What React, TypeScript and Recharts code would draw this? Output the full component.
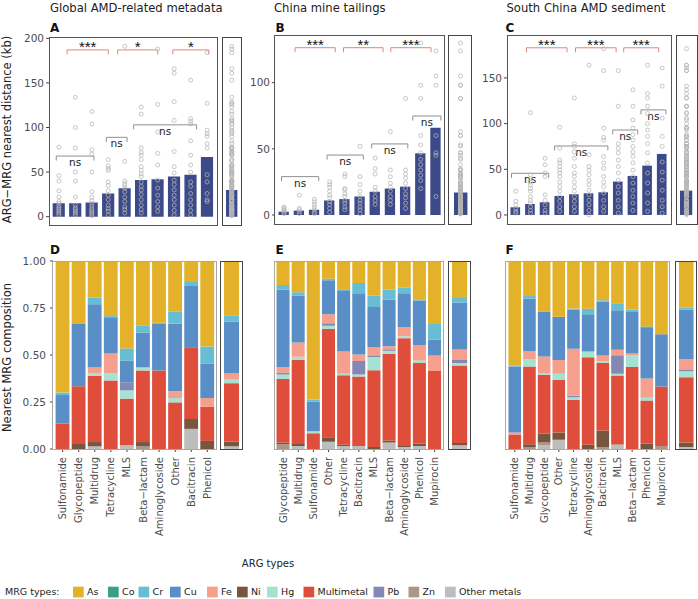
import React from "react";
import { ComposedChart, Bar, Scatter, XAxis, YAxis, ReferenceLine } from "recharts";

const FONT = "'DejaVu Sans', 'Liberation Sans', Arial, sans-serif";
const NAVY = "#3d4a8a";
const DOT = "#b4b4b4";
const SIG_RED = "#e0857b";
const SIG_GREY = "#8f8f8f";
const TICK = "#444";
const LABEL = "#4d4d4d";

// ---- top row: ARG–MRG nearest distance (kb) --------------------------------

const A_CATS = ["Sulfonamide", "Glycopeptide", "Multidrug", "Tetracycline", "MLS", "Beta\u2212lactam", "Aminoglycoside", "Other", "Bacitracin", "Phenicol"];
const A_MEAN = [15, 15, 16, 26, 32, 41, 42, 45, 47, 67];
const A_OVERALL = 30;
const A_DOTS = [
  [78, 46, 40, 29, 22, 17, 15, 12, 10, 8, 6, 4, 2],
  [134, 100, 77, 50, 40, 22, 13, 10, 8, 6, 4, 2],
  [118, 104, 75, 70, 50, 28, 22, 18, 15, 12, 9, 7, 5, 3, 1],
  [64, 57, 54, 52, 39, 35, 29, 24, 19, 13, 9, 6, 2],
  [191, 62, 40, 37, 35, 32, 28, 22, 17, 11, 8, 4],
  [123, 115, 77, 72, 69, 64, 56, 52, 48, 45, 39, 34, 30, 25, 19, 13, 8, 4],
  [188, 126, 95, 71, 58, 41, 32, 24, 17, 11, 6],
  [166, 161, 129, 108, 73, 56, 49, 41, 36, 30, 24, 19, 13, 7, 2],
  [153, 110, 107, 104, 85, 69, 58, 50, 39, 34, 26, 19, 13, 7, 2],
  [184, 127, 97, 93, 90, 82, 77, 47, 39, 26, 19, 17],
];
// [from, to, height, label]
const A_SIG: [number, number, number, string][] = [
  [1.5, 4.0, 187, "***"],
  [4.57, 7.0, 187, "*"],
  [7.92, 10.1, 187, "*"],
  [0.84, 3.13, 68, "ns"],
  [3.88, 5.14, 89, "ns"],
  [5.54, 9.36, 103, "ns"],
];

const B_CATS = ["Glycopeptide", "Multidrug", "Sulfonamide", "Other", "Tetracycline", "Bacitracin", "MLS", "Beta\u2212lactam", "Aminoglycoside", "Phenicol", "Mupirocin"];
const B_MEAN = [2.5, 3.3, 4, 11, 12, 14, 17.6, 20, 21.4, 46.6, 66];
const B_OVERALL = 17;
const B_DOTS = [
  [6, 5, 4, 3, 2, 1],
  [15, 5, 4, 2.5, 1],
  [12, 10, 8, 6, 4, 2, 1],
  [25, 23, 21, 18, 15, 13, 10, 8, 5, 2],
  [31, 29, 20, 19, 16, 14, 11, 9, 6, 4],
  [52, 29, 23, 18, 14, 11, 9, 6, 4, 1],
  [43, 35, 31, 21, 18, 14, 11, 8],
  [63, 34, 29, 24, 21, 18, 14, 11, 8],
  [88, 34, 31, 28, 24, 20, 16, 13, 9, 5],
  [130, 98, 88, 60, 53, 47, 42, 38, 34, 30, 26, 20],
  [124, 105, 98, 60, 47, 45, 14],
];
const B_SIG: [number, number, number, string][] = [
  [1.72, 4.37, 126.4, "***"],
  [4.91, 7.52, 126.4, "**"],
  [8.03, 10.68, 126.4, "***"],
  [0.83, 3.28, 29, "ns"],
  [3.83, 6.22, 45.3, "ns"],
  [6.77, 9.15, 53.7, "ns"],
  [9.48, 11.33, 74.8, "ns"],
];

const C_CATS = ["Sulfonamide", "Multidrug", "Glycopeptide", "Other", "Tetracycline", "Aminoglycoside", "Bacitracin", "MLS", "Beta\u2212lactam", "Phenicol", "Mupirocin"];
const C_MEAN = [8.4, 12, 13.9, 20.8, 22.6, 23.7, 24.8, 36.5, 42.7, 54, 66.8];
const C_OVERALL = 26.6;
const C_DOTS = [
  [26, 15, 11, 7, 4, 2],
  [112, 44, 36, 33, 29, 26, 20, 16, 13, 9, 5, 2],
  [62, 55, 46, 42, 22, 16, 11, 5, 2],
  [96, 73, 60, 57, 53, 49, 46, 42, 36, 31, 26, 20, 15, 9, 4],
  [128, 78, 75, 69, 62, 53, 46, 42, 36, 31, 26, 20, 15, 9, 4],
  [164, 66, 53, 49, 44, 38, 33, 27, 22, 16, 11, 5, 0],
  [182, 158, 95, 85, 82, 64, 57, 51, 42, 36, 31, 24, 16, 9, 4],
  [158, 119, 78, 73, 68, 60, 53, 46, 38, 31, 24, 16, 9, 2],
  [137, 119, 104, 95, 88, 82, 75, 69, 64, 57, 49, 42, 35, 27, 20, 13, 5],
  [164, 133, 128, 119, 111, 100, 93, 86, 78, 68, 57, 46, 35, 24, 13, 4],
  [161, 141, 106, 86, 75, 58, 47, 38, 27, 16, 9, 2],
];
const C_SIG: [number, number, number, string][] = [
  [1.73, 4.5, 183, "***"],
  [5.08, 7.85, 183, "***"],
  [8.37, 10.76, 183, "***"],
  [0.71, 3.25, 45.6, "ns"],
  [3.65, 7.29, 75.5, "ns"],
  [7.62, 9.33, 93, "ns"],
  [9.55, 11.25, 115, "ns"],
];

// ---- bottom row: nearest MRG composition -----------------------------------

const METALS = ["As", "Co", "Cr", "Cu", "Fe", "Ni", "Hg", "Multimetal", "Pb", "Zn", "Other metals"];
// bottom -> top
const STACK = ["Other metals", "Zn", "Ni", "Multimetal", "Hg", "Pb", "Fe", "Cu", "Cr", "Co", "As"];
const METAL_COLOR: Record<string, string> = {
  As: "#e3b12a",
  Co: "#3b9f86",
  Cr: "#67bdd2",
  Cu: "#5a8ec6",
  Fe: "#f4a08c",
  Ni: "#77563f",
  Hg: "#a5e2d2",
  Multimetal: "#de4e3a",
  Pb: "#8389b2",
  Zn: "#ad9686",
  "Other metals": "#bdbdbd",
};

const D_COMP: Record<string, number[]> = {
  "Other metals": [0, 0, 0.014, 0, 0.02, 0, 0, 0, 0.107, 0],
  Zn: [0, 0, 0, 0, 0, 0.014, 0, 0, 0, 0],
  Ni: [0, 0.027, 0.023, 0, 0, 0.023, 0, 0, 0.053, 0.043],
  Multimetal: [0.135, 0.307, 0.352, 0.365, 0.248, 0.381, 0.418, 0.248, 0.381, 0.182],
  Hg: [0, 0, 0.013, 0.037, 0.044, 0.016, 0, 0.023, 0, 0],
  Pb: [0, 0, 0, 0, 0.043, 0, 0, 0, 0, 0],
  Fe: [0, 0, 0.032, 0.106, 0, 0, 0, 0.036, 0, 0.046],
  Cu: [0.152, 0.334, 0.336, 0.193, 0.114, 0.185, 0.25, 0.361, 0.326, 0.182],
  Cr: [0.013, 0.004, 0.035, 0.006, 0.066, 0.037, 0.003, 0.062, 0.026, 0.092],
  As: [0.7, 0.33, 0.195, 0.293, 0.465, 0.344, 0.329, 0.27, 0.107, 0.455],
};
const D_OVERALL: Record<string, number> = { "Other metals": 0.014, Ni: 0.025, Multimetal: 0.311, Hg: 0.019, Fe: 0.033, Cu: 0.276, Cr: 0.033, As: 0.289 };

const E_COMP: Record<string, number[]> = {
  "Other metals": [0, 0.016, 0, 0.039, 0.016, 0.016, 0, 0.035, 0.01, 0.016, 0],
  Zn: [0.025, 0, 0, 0, 0, 0, 0, 0, 0, 0, 0],
  Ni: [0.01, 0.01, 0, 0.023, 0.006, 0, 0.01, 0.01, 0.006, 0.014, 0],
  Multimetal: [0.337, 0.448, 0.084, 0.577, 0.37, 0.37, 0.409, 0.462, 0.573, 0.43, 0.415],
  Hg: [0.024, 0.017, 0.01, 0.016, 0.008, 0.01, 0.07, 0.015, 0.011, 0.014, 0],
  Pb: [0.01, 0, 0, 0.014, 0, 0.072, 0.006, 0.008, 0, 0, 0],
  Fe: [0.029, 0.076, 0, 0.048, 0.119, 0.035, 0.047, 0.016, 0.049, 0.083, 0.082],
  Cu: [0.413, 0.248, 0.159, 0.18, 0.325, 0.325, 0.214, 0.249, 0.179, 0.238, 0.084],
  Cr: [0.025, 0.019, 0.01, 0.009, 0.006, 0.055, 0.059, 0.053, 0.03, 0.006, 0.084],
  As: [0.127, 0.166, 0.737, 0.094, 0.15, 0.117, 0.185, 0.152, 0.142, 0.205, 0.335],
};
const E_OVERALL: Record<string, number> = { "Other metals": 0.02, Ni: 0.012, Multimetal: 0.412, Hg: 0.014, Pb: 0.016, Fe: 0.056, Cu: 0.25, Cr: 0.023, As: 0.197 };

const F_COMP: Record<string, number[]> = {
  "Other metals": [0, 0, 0.02, 0.045, 0, 0, 0, 0.02, 0, 0, 0],
  Zn: [0, 0.01, 0.015, 0.004, 0, 0, 0.01, 0.004, 0, 0, 0.016],
  Ni: [0, 0.015, 0.047, 0.039, 0, 0.023, 0.088, 0, 0, 0.029, 0],
  Multimetal: [0.074, 0.414, 0.314, 0.279, 0.26, 0.465, 0.361, 0.367, 0.436, 0.229, 0.316],
  Hg: [0, 0.04, 0.006, 0.033, 0.015, 0.03, 0.008, 0.01, 0.062, 0.015, 0],
  Pb: [0, 0, 0, 0, 0.008, 0, 0, 0.098, 0, 0, 0],
  Fe: [0.014, 0.042, 0.09, 0.073, 0.25, 0, 0.031, 0.029, 0.01, 0.102, 0],
  Cu: [0.351, 0.279, 0.237, 0.23, 0.209, 0.195, 0.287, 0.211, 0.221, 0.273, 0.279],
  Cr: [0.004, 0.014, 0.004, 0, 0.006, 0.033, 0.006, 0.037, 0.013, 0, 0],
  Co: [0, 0, 0, 0, 0, 0, 0, 0, 0, 0.004, 0],
  As: [0.557, 0.186, 0.268, 0.297, 0.252, 0.254, 0.209, 0.225, 0.258, 0.348, 0.389],
};
const F_OVERALL: Record<string, number> = { "Other metals": 0.01, Ni: 0.025, Multimetal: 0.346, Hg: 0.033, Pb: 0.006, Fe: 0.059, Cu: 0.263, Cr: 0.01, As: 0.248 };

// ---- shared bits ------------------------------------------------------------

type Box = { x0: number; x1: number; y0: number; y1: number };

const PAD_TOP = 8; // room above the frame for the top tick label
const seq = (n: number) => Array.from({ length: n }, (_, i) => i + 1);

function Ring(p: any) {
  if (p.cx == null || p.cy == null) return null;
  return <circle cx={p.cx} cy={p.cy} r={2} fill="none" stroke={DOT} strokeWidth={0.75} />;
}

function Frame({ box, color }: { box: Box; color: string }) {
  return (
    <div
      style={{
        position: "absolute",
        left: box.x0 - 0.5,
        top: box.y0 - 0.5,
        width: box.x1 - box.x0 + 1,
        height: box.y1 - box.y0 + 1,
        border: `1px solid ${color}`,
        boxSizing: "border-box",
        pointerEvents: "none",
      }}
    />
  );
}

function SigLabel({ viewBox, text }: any) {
  if (!viewBox) return null;
  const x0 = viewBox.x ?? Math.min(viewBox.x1, viewBox.x2);
  const w = viewBox.width ?? Math.abs(viewBox.x2 - viewBox.x1);
  const y = viewBox.y ?? viewBox.y1;
  const cx = x0 + w / 2;
  if (text === "ns") {
    return <text x={cx} y={y + 10} textAnchor="middle" fontSize={10.5} fill="#222">ns</text>;
  }
  return (
    <text x={cx} y={y + 2} textAnchor="middle" fontSize={15} fill="#111" fontFamily="'Liberation Sans', Arial, sans-serif">
      {text}
    </text>
  );
}

function brackets(sig: [number, number, number, string][], tip: number) {
  return sig.flatMap(([a, b, y, lab], i) => {
    const col = lab === "ns" ? SIG_GREY : SIG_RED;
    return [
      <ReferenceLine key={`h${i}`} segment={[{ x: a, y }, { x: b, y }]} stroke={col} strokeWidth={1} ifOverflow="visible" label={<SigLabel text={lab} />} />,
      <ReferenceLine key={`l${i}`} segment={[{ x: a, y }, { x: a, y: y - tip }]} stroke={col} strokeWidth={1} ifOverflow="visible" />,
      <ReferenceLine key={`r${i}`} segment={[{ x: b, y }, { x: b, y: y - tip }]} stroke={col} strokeWidth={1} ifOverflow="visible" />,
    ];
  });
}

// ---- top: bar of means + raw points + significance brackets ----------------

function TopPanel({
  cats, means, dots, sig, yDomain, yTicks, box, barFrac,
}: {
  cats: string[]; means: number[]; dots: number[][]; sig: [number, number, number, string][];
  yDomain: [number, number]; yTicks: number[]; box: Box; barFrac: number;
}) {
  const n = cats.length;
  const yw = 30;
  const bw = box.x1 - box.x0;
  const bh = box.y1 - box.y0;
  const unit = bw / (n + 0.2);
  const tip = 4.5 / (bh / (yDomain[1] - yDomain[0]));
  const rows = means.map((v, i) => ({ x: i + 1, v }));
  const pts = dots.flatMap((arr, i) => arr.map((v) => ({ x: i + 1, v })));
  return (
    <>
      <div style={{ position: "absolute", left: box.x0 - yw, top: box.y0 - PAD_TOP }}>
        <ComposedChart width={yw + bw + 1} height={bh + PAD_TOP + 6} data={rows} margin={{ top: PAD_TOP, right: 1, bottom: 0, left: 0 }}>
          <XAxis type="number" dataKey="x" domain={[0.4, n + 0.6]} ticks={seq(n)} interval={0} allowDataOverflow
            tick={false} tickLine={{ stroke: TICK }} tickSize={3} axisLine={false} height={6} />
          <YAxis type="number" domain={yDomain} ticks={yTicks} interval={0} allowDataOverflow width={yw}
            tickSize={3} tickMargin={2} tickLine={{ stroke: TICK }} axisLine={false}
            tick={{ fontSize: 10.5, fill: LABEL }} />
          <Bar dataKey="v" fill={NAVY} barSize={unit * barFrac} isAnimationActive={false} />
          <Scatter data={pts} dataKey="v" shape={Ring} isAnimationActive={false} />
          {brackets(sig, tip)}
        </ComposedChart>
      </div>
      <Frame box={box} color="#555" />
    </>
  );
}

function TopOverall({ mean, dots, yDomain, box }: { mean: number; dots: number[][]; yDomain: [number, number]; box: Box }) {
  const bw = box.x1 - box.x0;
  const bh = box.y1 - box.y0;
  const rows = [{ name: "Overall", v: mean }];
  const pts = dots.flat().map((v) => ({ name: "Overall", v }));
  return (
    <>
      <div style={{ position: "absolute", left: box.x0, top: box.y0 - PAD_TOP }}>
        <ComposedChart width={bw + 1} height={bh + PAD_TOP + 6} data={rows} margin={{ top: PAD_TOP, right: 1, bottom: 0, left: 0 }}>
          <XAxis type="category" dataKey="name" allowDuplicatedCategory={false} tick={false} tickLine={{ stroke: TICK }}
            tickSize={3} axisLine={false} height={6} />
          <YAxis type="number" domain={yDomain} allowDataOverflow hide />
          <Bar dataKey="v" fill={NAVY} barSize={(bw / 1.2) * 0.7} isAnimationActive={false} />
          <Scatter data={pts} dataKey="v" shape={Ring} isAnimationActive={false} />
        </ComposedChart>
      </div>
      <Frame box={box} color="#444" />
    </>
  );
}

// ---- bottom: stacked composition --------------------------------------------

function CatTick({ x, y, payload, names }: any) {
  const label = names ? names[payload.value - 1] : payload.value;
  return (
    <text x={x} y={y} transform={`rotate(-90 ${x} ${y})`} textAnchor="end" dominantBaseline="central" fontSize={10} fill={LABEL}>
      {label}
    </text>
  );
}

function BottomPanel({ cats, comp, box, showY }: { cats: string[]; comp: Record<string, number[]>; box: Box; showY: boolean }) {
  const n = cats.length;
  const yw = showY ? 35 : 0;
  const bw = box.x1 - box.x0;
  const bh = box.y1 - box.y0;
  const unit = bw / (n + 0.2);
  const rows = cats.map((name, i) => {
    const r: any = { x: i + 1, name };
    METALS.forEach((m) => (r[m] = comp[m] ? comp[m][i] : 0));
    return r;
  });
  return (
    <>
      <div style={{ position: "absolute", left: box.x0 - yw, top: box.y0 - PAD_TOP }}>
        <ComposedChart width={yw + bw + 1} height={bh + PAD_TOP + 90} data={rows} stackOffset="expand" margin={{ top: PAD_TOP, right: 1, bottom: 0, left: 0 }}>
          <XAxis type="number" dataKey="x" domain={[0.4, n + 0.6]} ticks={seq(n)} interval={0} allowDataOverflow
            tickLine={{ stroke: TICK }} tickSize={3} tickMargin={5} axisLine={false} height={90}
            tick={<CatTick names={cats} />} />
          <YAxis type="number" domain={[-0.05, 1.05]} ticks={[0, 0.25, 0.5, 0.75, 1]} interval={0} allowDataOverflow
            hide={!showY} width={yw} tickSize={3} tickMargin={4} tickLine={{ stroke: TICK }} axisLine={false}
            tickFormatter={(v: number) => v.toFixed(2)} tick={{ fontSize: 10.5, fill: LABEL }} />
          {STACK.map((m) => (
            <Bar key={m} dataKey={m} stackId="s" fill={METAL_COLOR[m]} barSize={unit * 0.86} isAnimationActive={false} />
          ))}
        </ComposedChart>
      </div>
      <Frame box={box} color="#a8a8a8" />
    </>
  );
}

function BottomOverall({ comp, box }: { comp: Record<string, number>; box: Box }) {
  const bw = box.x1 - box.x0;
  const bh = box.y1 - box.y0;
  const row: any = { name: "Overall" };
  METALS.forEach((m) => (row[m] = comp[m] || 0));
  return (
    <>
      <div style={{ position: "absolute", left: box.x0, top: box.y0 - PAD_TOP }}>
        <ComposedChart width={bw + 1} height={bh + PAD_TOP + 90} data={[row]} stackOffset="expand" margin={{ top: PAD_TOP, right: 1, bottom: 0, left: 0 }}>
          <XAxis type="category" dataKey="name" tickLine={{ stroke: TICK }} tickSize={3} tickMargin={5} axisLine={false} height={90}
            tick={<CatTick />} />
          <YAxis type="number" domain={[-0.05, 1.05]} allowDataOverflow hide />
          {STACK.map((m) => (
            <Bar key={m} dataKey={m} stackId="s" fill={METAL_COLOR[m]} barSize={(bw / 1.2) * 0.82} isAnimationActive={false} />
          ))}
        </ComposedChart>
      </div>
      <Frame box={box} color="#444" />
    </>
  );
}

// ---- page -------------------------------------------------------------------

const LEGEND_X = [73, 108, 138.5, 170, 207, 237, 267, 303.5, 373.5, 408.5, 445];

function Texts() {
  return (
    <svg width={698} height={599} style={{ position: "absolute", left: 0, top: 0 }}>
      <g fontSize={11.6} fill="#222">
        <text x={50} y={12}>Global AMD-related metadata</text>
        <text x={274} y={12}>China mine tailings</text>
        <text x={506.5} y={12}>South China AMD sediment</text>
      </g>
      <g fontSize={12} fontWeight="bold" fill="#111">
        <text x={50} y={32.3}>A</text>
        <text x={275.5} y={32.3}>B</text>
        <text x={505.5} y={32.3}>C</text>
        <text x={50} y={254}>D</text>
        <text x={275.5} y={254}>E</text>
        <text x={505.5} y={254}>F</text>
      </g>
      <g fontSize={11.5} fill="#222" textAnchor="middle">
        <text transform="translate(10.5 129.5) rotate(-90)">ARG{"\u2212"}MRG nearest distance (kb)</text>
        <text transform="translate(10.5 357.5) rotate(-90)">Nearest MRG composition</text>
      </g>
      <text x={268} y={566.5} fontSize={10} fill="#222" textAnchor="middle">ARG types</text>
      <g fontSize={9.5} fill="#222">
        <text x={5} y={595.3}>MRG types:</text>
        {METALS.map((m, i) => (
          <g key={m}>
            <rect x={LEGEND_X[i]} y={586.7} width={10.7} height={10.7} fill={METAL_COLOR[m]} />
            <text x={LEGEND_X[i] + 14} y={595.3}>{m}</text>
          </g>
        ))}
      </g>
    </svg>
  );
}

export default function App() {
  return (
    <div style={{ position: "absolute", left: 0, top: 0, width: 698, height: 599, background: "#fff", fontFamily: FONT, overflow: "hidden" }}>
      <Texts />
      <TopPanel cats={A_CATS} means={A_MEAN} dots={A_DOTS} sig={A_SIG} yDomain={[-9.9, 201.5]} yTicks={[0, 50, 100, 150, 200]}
        box={{ x0: 49, x1: 217, y0: 37, y1: 225.5 }} barFrac={0.74} />
      <TopOverall mean={A_OVERALL} dots={A_DOTS} yDomain={[-9.9, 201.5]} box={{ x0: 222, x1: 241.5, y0: 37, y1: 225.5 }} />
      <TopPanel cats={B_CATS} means={B_MEAN} dots={B_DOTS} sig={B_SIG} yDomain={[-6.8, 136]} yTicks={[0, 50, 100]}
        box={{ x0: 274.5, x1: 444.5, y0: 35, y1: 224 }} barFrac={0.68} />
      <TopOverall mean={B_OVERALL} dots={B_DOTS} yDomain={[-6.8, 136]} box={{ x0: 448.5, x1: 471.5, y0: 35, y1: 224 }} />
      <TopPanel cats={C_CATS} means={C_MEAN} dots={C_DOTS} sig={C_SIG} yDomain={[-9.9, 197]} yTicks={[0, 50, 100, 150]}
        box={{ x0: 507, x1: 671, y0: 35, y1: 224 }} barFrac={0.66} />
      <TopOverall mean={C_OVERALL} dots={C_DOTS} yDomain={[-9.9, 197]} box={{ x0: 676, x1: 697, y0: 35, y1: 224 }} />

      <BottomPanel cats={A_CATS} comp={D_COMP} box={{ x0: 52.7, x1: 216.7, y0: 261, y1: 449 }} showY />
      <BottomOverall comp={D_OVERALL} box={{ x0: 220.5, x1: 242.5, y0: 261, y1: 449 }} />
      <BottomPanel cats={B_CATS} comp={E_COMP} box={{ x0: 274.3, x1: 444, y0: 261, y1: 449 }} showY={false} />
      <BottomOverall comp={E_OVERALL} box={{ x0: 448.3, x1: 470.5, y0: 261, y1: 449 }} />
      <BottomPanel cats={C_CATS} comp={F_COMP} box={{ x0: 505.7, x1: 670, y0: 261, y1: 449 }} showY={false} />
      <BottomOverall comp={F_OVERALL} box={{ x0: 675.7, x1: 697, y0: 261, y1: 449 }} />
    </div>
  );
}
